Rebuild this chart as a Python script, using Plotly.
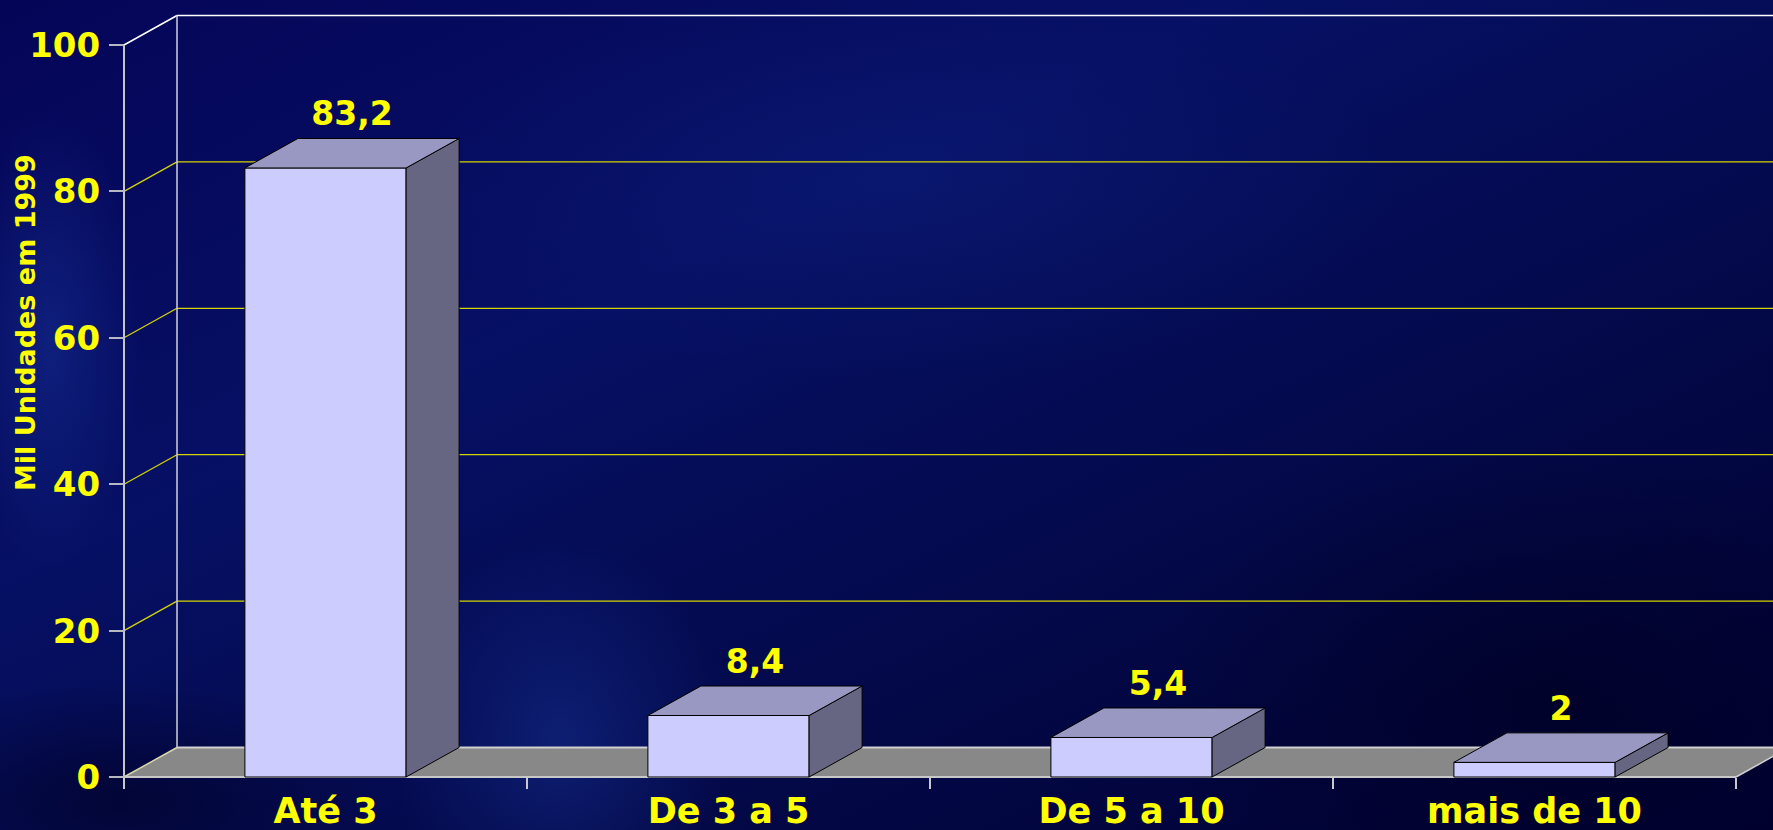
import urllib.parse
import plotly.graph_objects as go

# ---------------- data ----------------
categories = ["Até 3", "De 3 a 5", "De 5 a 10", "mais de 10"]
values = [83.2, 8.4, 5.4, 2]
y_ticks = [0, 20, 40, 60, 80, 100]
y_title = "Mil Unidades em 1999"

# ---------------- layout geometry (pixels) ----------------
W, H = 1773, 830
FX0, FX1 = 124, 1736      # front floor left/right
FY0, FY100 = 777, 45      # front y of 0 and 100
L, R, T, B = 116, 0, 8, 45
DEPTH_PX_X, DEPTH_PX_Y = 53, 29.5
BAR_W = 0.4
LABEL_LIFT_PX = 5

n = len(categories)
pxx = (FX1 - FX0) / n
pxy = (FY0 - FY100) / (y_ticks[-1] - y_ticks[0])
xr = [-0.5 - (FX0 - L) / pxx, -0.5 + (W - R - FX0) / pxx]
yr = [-((H - B) - FY0) / pxy, y_ticks[-1] + (FY100 - T) / pxy]
dx = DEPTH_PX_X / pxx
dy = DEPTH_PX_Y / pxy
xl, xrgt = -0.5, n - 0.5
ymax = y_ticks[-1]

YELLOW = "#ffff00"
FONT = "DejaVu Sans"

# ---------------- background (svg gradient) ----------------
svg = f"""<svg xmlns='http://www.w3.org/2000/svg' width='{W}' height='{H}' viewBox='0 0 {W} {H}'>
<defs>
<linearGradient id='g' x1='0' y1='0' x2='1' y2='1'>
<stop offset='0' stop-color='#050558'/>
<stop offset='0.35' stop-color='#061064'/>
<stop offset='0.7' stop-color='#030846'/>
<stop offset='1' stop-color='#000030'/>
</linearGradient>
<radialGradient id='r1' cx='0.5' cy='0.5' r='0.5'>
<stop offset='0' stop-color='#1c3ca8' stop-opacity='0.4'/>
<stop offset='1' stop-color='#1c3ca8' stop-opacity='0'/>
</radialGradient>
<radialGradient id='r2' cx='0.5' cy='0.5' r='0.5'>
<stop offset='0' stop-color='#000020' stop-opacity='0.6'/>
<stop offset='1' stop-color='#000020' stop-opacity='0'/>
</radialGradient>
</defs>
<rect width='{W}' height='{H}' fill='url(#g)'/>
<ellipse cx='560' cy='740' rx='170' ry='200' fill='url(#r1)'/>
<ellipse cx='50' cy='340' rx='90' ry='230' fill='url(#r1)'/>
<ellipse cx='900' cy='180' rx='500' ry='200' fill='url(#r1)' opacity='0.4'/>
<ellipse cx='120' cy='800' rx='260' ry='120' fill='url(#r2)'/>
<ellipse cx='1550' cy='700' rx='400' ry='250' fill='url(#r2)'/>
</svg>"""
bg_uri = "data:image/svg+xml;charset=utf-8," + urllib.parse.quote(svg)

pw, ph = W - L - R, H - T - B

fig = go.Figure()

# ---------------- bars (faces drawn from the values) ----------------
fx, fy, sx, sy, tx, ty = [], [], [], [], [], []
for i, v in enumerate(values):
    a, b = i - BAR_W / 2, i + BAR_W / 2
    fx += [a, b, b, a, a, None]
    fy += [0, 0, v, v, 0, None]
    sx += [b, b + dx, b + dx, b, b, None]
    sy += [0, dy, v + dy, v, 0, None]
    tx += [a, b, b + dx, a + dx, a, None]
    ty += [v, v, v + dy, v + dy, v, None]

for xs, ys, col in [(fx, fy, "#ccccff"), (sx, sy, "#666682"), (tx, ty, "#9898c2")]:
    fig.add_trace(go.Scatter(x=xs, y=ys, mode="lines", fill="toself", fillcolor=col,
                             line=dict(color="#000000", width=1), hoverinfo="skip",
                             showlegend=False))

labels = [f"{v:g}".replace(".", ",") for v in values]
fig.add_trace(go.Scatter(
    x=[i + dx / 2 for i in range(n)], y=[v + dy + LABEL_LIFT_PX / pxy for v in values],
    mode="text", text=labels, textposition="top center",
    textfont=dict(family=FONT, size=33, color=YELLOW, weight="bold"),
    hoverinfo="skip", showlegend=False))

# ---------------- walls, floor and gridlines ----------------
shapes = []
shapes.append(dict(type="path", xref="x", yref="y", layer="below",
                   path=f"M{xl},0 L{xrgt},0 L{xrgt+dx},{dy} L{xl+dx},{dy} Z",
                   fillcolor="#888888", line=dict(width=0)))
shapes.append(dict(type="line", xref="x", yref="y", layer="below",
                   x0=xl + dx, y0=dy, x1=xr[1] + 1, y1=dy, line=dict(color="#d0d0d0", width=2)))
shapes.append(dict(type="line", xref="x", yref="y", layer="below",
                   x0=xl, y0=0, x1=xl + dx, y1=dy, line=dict(color="#d8d8a8", width=1.5)))
for t in y_ticks[1:]:
    col = "#ffffff" if t == ymax else "#d4d400"
    wdt = 1.5 if t == ymax else 1.3
    shapes.append(dict(type="line", xref="x", yref="y", layer="below",
                       x0=xl, y0=t, x1=xl + dx, y1=t + dy, line=dict(color=col, width=wdt)))
    shapes.append(dict(type="line", xref="x", yref="y", layer="below",
                       x0=xl + dx, y0=t + dy, x1=xr[1] + 1, y1=t + dy, line=dict(color=col, width=wdt)))
shapes.append(dict(type="line", xref="x", yref="y", layer="below",
                   x0=xl + dx, y0=dy, x1=xl + dx, y1=ymax + dy, line=dict(color="#d0d0dc", width=1.5)))
shapes.append(dict(type="line", xref="x", yref="y", layer="below",
                   x0=xl, y0=0, x1=xl, y1=ymax, line=dict(color="#c4c4cc", width=2)))
shapes.append(dict(type="line", xref="x", yref="y", layer="below",
                   x0=xl, y0=0, x1=xrgt, y1=0, line=dict(color="#c8c8c8", width=2)))
shapes.append(dict(type="line", xref="x", yref="y", layer="below",
                   x0=xrgt, y0=0, x1=xrgt + dx, y1=dy, line=dict(color="#d0d0d0", width=1.5)))

annotations = [dict(text=y_title, textangle=-90, xref="paper", yref="paper",
                    x=(25 - L) / pw, y=((H - B) - 323) / ph, xanchor="center", yanchor="middle",
                    showarrow=False, font=dict(family=FONT, size=27, color=YELLOW, weight="bold"))]

fig.update_layout(
    width=W, height=H,
    margin=dict(l=L, r=R, t=T, b=B, pad=0),
    paper_bgcolor="#04064e", plot_bgcolor="rgba(0,0,0,0)",
    shapes=shapes, annotations=annotations,
    images=[dict(source=bg_uri, xref="paper", yref="paper",
                 x=-L / pw, y=1 + T / ph, sizex=W / pw, sizey=H / ph,
                 xanchor="left", yanchor="top", sizing="stretch", layer="below")],
    xaxis=dict(range=xr, tickvals=list(range(n)), ticktext=categories, ticks="",
               showgrid=False, zeroline=False, showline=False,
               anchor="free", position=((H - B) - FY0) / ph,
               ticklabelstandoff=10,
               tickfont=dict(family=FONT, size=35, color=YELLOW, weight="bold"),
               minor=dict(tickvals=[i - 0.5 for i in range(n + 1)], ticks="outside",
                          ticklen=11, tickwidth=2, tickcolor="#c8c8d0", showgrid=False),
               fixedrange=True),
    yaxis=dict(range=yr, tickvals=y_ticks, ticks="outside", ticklen=15, tickwidth=2,
               tickcolor="#b8b8c0", showgrid=False, zeroline=False, showline=False,
               anchor="free", position=(FX0 - L) / pw,
               ticklabelstandoff=2,
               tickfont=dict(family=FONT, size=34, color=YELLOW, weight="bold"),
               fixedrange=True),
)

fig.write_html("out.html")
